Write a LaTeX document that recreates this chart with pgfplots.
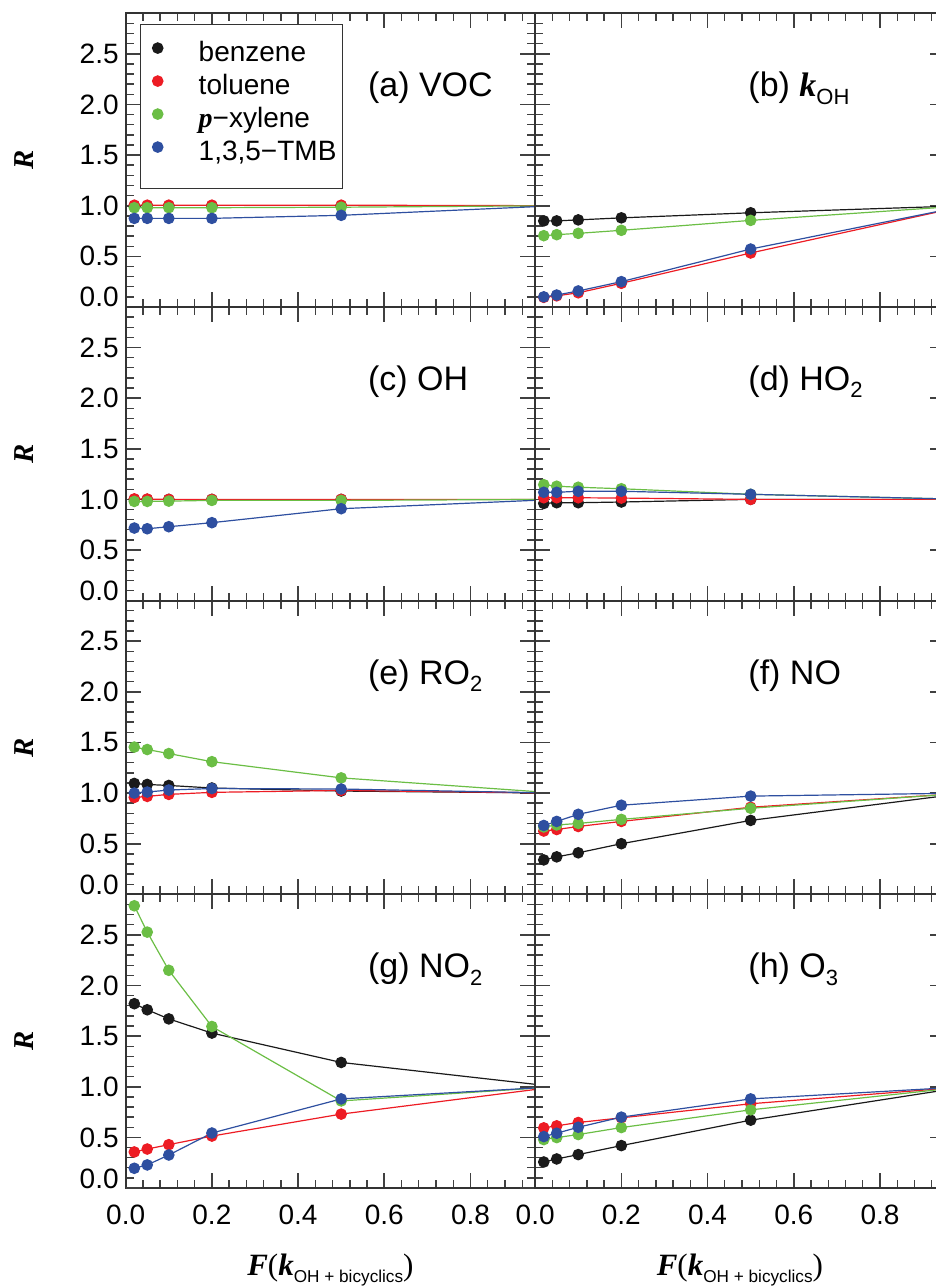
\documentclass[border=0pt]{standalone}
\usepackage{fontspec}
\setmainfont{Liberation Sans}
\newfontfamily\tnr{Liberation Serif}
\usepackage{pgfplots}
\pgfplotsset{compat=1.18}
\usepgfplotslibrary{groupplots}

\definecolor{cblk}{HTML}{1A1A1A}
\definecolor{cred}{HTML}{ED1C24}
\definecolor{cgrn}{HTML}{6BBE45}
\definecolor{cblu}{HTML}{2E4FA0}

\newcommand\bi[1]{{\tnr\bfseries\itshape #1}}
\newcommand\sub[1]{\raisebox{-3.7pt}{\fontsize{11}{12}\selectfont #1}}

\pgfplotsset{
  base/.style={
    scale only axis, width=204.75pt, height=146.85pt,
    xmin=0, xmax=0.95, ymin=0, ymax=2.9,
    xtick={0,0.2,0.4,0.6,0.8},
    minor xtick={0.04,0.08,0.12,0.16,0.24,0.28,0.32,0.36,0.44,0.48,0.52,0.56,0.64,0.68,0.72,0.76,0.84,0.88,0.92},
    minor ytick={0.1,0.2,0.3,0.4,0.6,0.7,0.8,0.9,1.1,1.2,1.3,1.4,1.6,1.7,1.8,1.9,2.1,2.2,2.3,2.4,2.6,2.7,2.8},
    major tick length=7.5pt, minor tick length=4pt,
    tick align=inside, xtick pos=both, ytick pos=both,
    axis line style={line width=1pt, black!80},
    major tick style={black!75, line width=0.8pt},
    minor tick style={black!75, line width=0.7pt},
    tick label style={font=\fontsize{14}{16}\selectfont},
    clip=true,
    every axis plot/.append style={line width=0.6pt, mark=*, mark size=2.6pt, mark indices={1,2,3,4,5}},
    legend image code/.code={\path[#1] plot coordinates {(0pt,4.5pt)}; \path (-5pt,0pt) (15pt,0pt);},
  },
  lc/.style={
    ytick={0.5,1,1.5,2,2.5}, yticklabels={0.5,1.0,1.5,2.0,2.5},
    extra y ticks={0}, extra y tick labels={0.0},
    extra y tick style={yticklabel style={anchor=base east}},
    ylabel={\fontsize{14.4}{16}\selectfont\bi{R}},
    ylabel style={at={(rel axis cs:-0.2484,0.5)}, anchor=center},
  },
  rc/.style={ytick={0,0.5,1,1.5,2,2.5}, yticklabels={}},
  nb/.style={xticklabels={}},
  br/.style={
    xticklabels={0.0,0.2,0.4,0.6,0.8},
    xticklabel style={yshift=-4.7pt},
    xlabel={\fontsize{15.5}{18}\selectfont\bi{F}{\tnr(}\bi{k}\raisebox{-3.3pt}{\fontsize{8.6}{10}\selectfont OH + bicyclics}{\tnr)}},
    xlabel style={at={(rel axis cs:0.5,-0.279)}, anchor=center},
  },
}

\newcommand\ttl[2]{\node[anchor=west, font=\fontsize{17}{20}\selectfont, inner sep=0pt] at (rel axis cs:#1,0.745) {#2};}

\begin{document}
\begin{tikzpicture}
\begin{groupplot}[group style={group size=2 by 4, horizontal sep=0pt, vertical sep=0pt}, base]
% (a) VOC
\nextgroupplot[lc, nb,
  legend style={at={(rel axis cs:0.036,0.9636)}, anchor=north west, draw=black!80, line width=0.5pt,
    inner xsep=3.1pt, inner ysep=8.3pt, row sep=0.5pt, column sep=5.2pt,
    font=\fontsize{14}{16}\selectfont,
    nodes={inner xsep=0pt, inner ysep=0pt, text height=10.3pt, text depth=5.7pt}},
  legend cell align=left]
\coordinate (TL) at (rel axis cs:0,1);
\addplot[cblk] coordinates {(0.02,1.0)(0.05,1.0)(0.1,1.0)(0.2,1.0)(0.5,1.0)(1.0,1.0)};
\addplot[cred] coordinates {(0.02,1.005)(0.05,1.005)(0.1,1.005)(0.2,1.005)(0.5,1.005)(1.0,1.0)};
\addplot[cgrn] coordinates {(0.02,0.98)(0.05,0.98)(0.1,0.98)(0.2,0.98)(0.5,0.985)(1.0,1.0)};
\addplot[cblu] coordinates {(0.02,0.875)(0.05,0.875)(0.1,0.875)(0.2,0.875)(0.5,0.905)(1.0,1.0)};
\legend{benzene,toluene,{\bi{p}−xylene},{1,3,5−TMB}}
\ttl{0.591}{(a) VOC}
% (b) kOH
\nextgroupplot[rc, nb]
\addplot[cblk] coordinates {(0.02,0.85)(0.05,0.85)(0.1,0.86)(0.2,0.88)(0.5,0.93)(1.0,1.0)};
\addplot[cred] coordinates {(0.02,0.095)(0.05,0.11)(0.1,0.14)(0.2,0.234)(0.5,0.533)(1.0,1.0)};
\addplot[cgrn] coordinates {(0.02,0.704)(0.05,0.714)(0.1,0.727)(0.2,0.757)(0.5,0.855)(1.0,1.0)};
\addplot[cblu] coordinates {(0.02,0.10)(0.05,0.118)(0.1,0.158)(0.2,0.25)(0.5,0.572)(1.0,1.0)};
\ttl{0.520}{(b) \bi{k}\sub{OH}}
% (c) OH
\nextgroupplot[lc, nb]
\addplot[cblk] coordinates {(0.02,1.0)(0.05,1.0)(0.1,1.0)(0.2,1.0)(0.5,1.0)(1.0,1.0)};
\addplot[cred] coordinates {(0.02,1.005)(0.05,1.003)(0.1,1.0)(0.2,1.0)(0.5,1.0)(1.0,1.0)};
\addplot[cgrn] coordinates {(0.02,0.98)(0.05,0.98)(0.1,0.983)(0.2,0.99)(0.5,0.99)(1.0,1.0)};
\addplot[cblu] coordinates {(0.02,0.717)(0.05,0.71)(0.1,0.73)(0.2,0.77)(0.5,0.908)(1.0,1.0)};
\ttl{0.591}{(c) OH}
% (d) HO2
\nextgroupplot[rc, nb]
\addplot[cblk] coordinates {(0.02,0.96)(0.05,0.967)(0.1,0.967)(0.2,0.974)(0.5,1.0)(1.0,1.0)};
\addplot[cred] coordinates {(0.02,1.016)(0.05,1.016)(0.1,1.016)(0.2,1.013)(0.5,1.0)(1.0,1.0)};
\addplot[cgrn] coordinates {(0.02,1.145)(0.05,1.13)(0.1,1.12)(0.2,1.105)(0.5,1.05)(1.0,1.0)};
\addplot[cblu] coordinates {(0.02,1.07)(0.05,1.07)(0.1,1.08)(0.2,1.08)(0.5,1.05)(1.0,1.0)};
\ttl{0.520}{(d) HO\sub{2}}
% (e) RO2
\nextgroupplot[lc, nb]
\addplot[cblk] coordinates {(0.02,1.095)(0.05,1.085)(0.1,1.075)(0.2,1.05)(0.5,1.02)(1.0,1.0)};
\addplot[cred] coordinates {(0.02,0.957)(0.05,0.967)(0.1,0.987)(0.2,1.007)(0.5,1.026)(1.0,1.0)};
\addplot[cgrn] coordinates {(0.02,1.454)(0.05,1.43)(0.1,1.39)(0.2,1.31)(0.5,1.15)(1.0,1.0)};
\addplot[cblu] coordinates {(0.02,1.0)(0.05,1.01)(0.1,1.03)(0.2,1.045)(0.5,1.04)(1.0,1.0)};
\ttl{0.591}{(e) RO\sub{2}}
% (f) NO
\nextgroupplot[rc, nb]
\addplot[cblk] coordinates {(0.02,0.34)(0.05,0.37)(0.1,0.41)(0.2,0.5)(0.5,0.73)(1.0,1.0)};
\addplot[cred] coordinates {(0.02,0.625)(0.05,0.64)(0.1,0.67)(0.2,0.72)(0.5,0.86)(1.0,1.0)};
\addplot[cgrn] coordinates {(0.02,0.665)(0.05,0.685)(0.1,0.70)(0.2,0.74)(0.5,0.85)(1.0,1.0)};
\addplot[cblu] coordinates {(0.02,0.68)(0.05,0.72)(0.1,0.79)(0.2,0.88)(0.5,0.97)(1.0,1.0)};
\ttl{0.520}{(f) NO}
% (g) NO2
\nextgroupplot[lc, br]
\coordinate (BL) at (rel axis cs:0,0);
\addplot[cblk] coordinates {(0.02,1.82)(0.05,1.76)(0.1,1.67)(0.2,1.53)(0.5,1.24)(1.0,1.0)};
\addplot[cred] coordinates {(0.02,0.356)(0.05,0.385)(0.1,0.428)(0.2,0.513)(0.5,0.73)(1.0,1.0)};
\addplot[cgrn] coordinates {(0.02,2.787)(0.05,2.527)(0.1,2.15)(0.2,1.595)(0.5,0.86)(1.0,1.0)};
\addplot[cblu] coordinates {(0.02,0.195)(0.05,0.228)(0.1,0.326)(0.2,0.543)(0.5,0.88)(1.0,1.0)};
\ttl{0.591}{(g) NO\sub{2}}
% (h) O3
\nextgroupplot[rc, br]
\addplot[cblk] coordinates {(0.02,0.257)(0.05,0.287)(0.1,0.33)(0.2,0.419)(0.5,0.67)(1.0,1.0)};
\addplot[cred] coordinates {(0.02,0.594)(0.05,0.614)(0.1,0.647)(0.2,0.693)(0.5,0.832)(1.0,1.0)};
\addplot[cgrn] coordinates {(0.02,0.478)(0.05,0.498)(0.1,0.528)(0.2,0.597)(0.5,0.772)(1.0,1.0)};
\addplot[cblu] coordinates {(0.02,0.508)(0.05,0.541)(0.1,0.60)(0.2,0.70)(0.5,0.88)(1.0,1.0)};
\ttl{0.520}{(h) O\sub{3}}
\end{groupplot}
\pgfresetboundingbox
\path[use as bounding box] ([xshift=-62.85pt,yshift=6.65pt]TL) rectangle ([xshift=405.15pt,yshift=-50pt]BL);
\end{tikzpicture}
\end{document}
